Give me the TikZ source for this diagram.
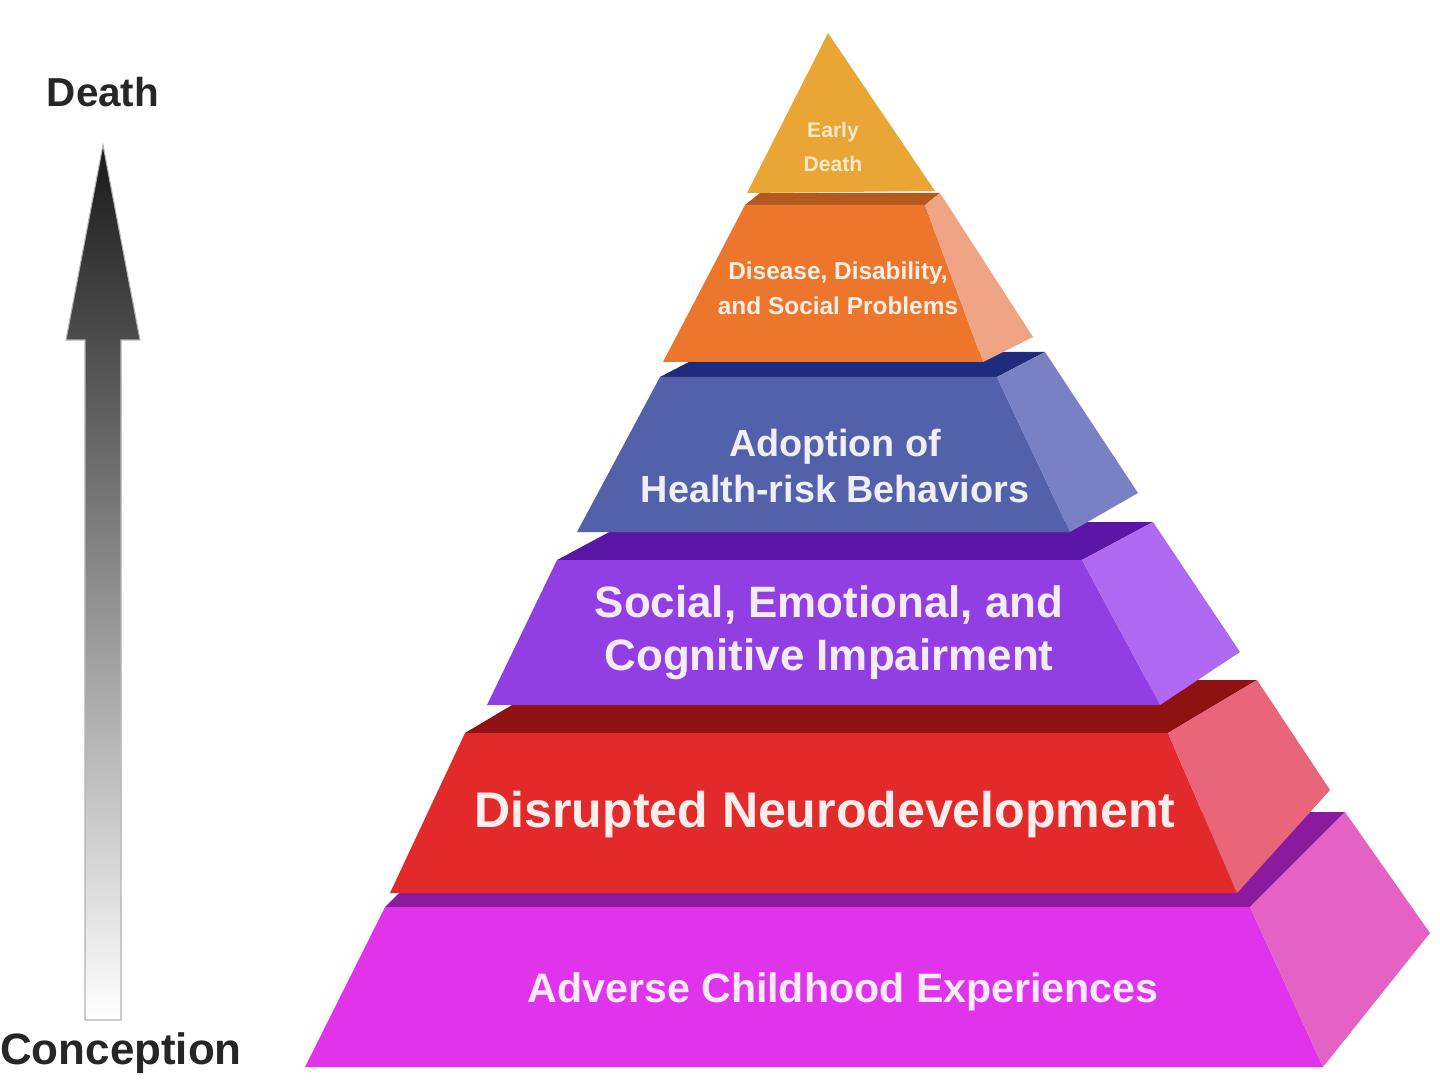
\documentclass[tikz,border=0pt]{standalone}
\usepackage{fontspec}
\setmainfont{Liberation Sans}
\usepackage{xcolor}
\usepackage{tikz}
\usetikzlibrary{calc}
\definecolor{goldc}{HTML}{EAA634}
\definecolor{orgc}{HTML}{EC772C}
\definecolor{orgs}{HTML}{F0A486}
\definecolor{orgt}{HTML}{B55A1E}
\definecolor{bluc}{HTML}{5360AA}
\definecolor{blus}{HTML}{7A80C4}
\definecolor{blut}{HTML}{1F2C7E}
\definecolor{purc}{HTML}{913EE2}
\definecolor{purs}{HTML}{B068F2}
\definecolor{purt}{HTML}{5B16A8}
\definecolor{redc}{HTML}{E22A2A}
\definecolor{reds}{HTML}{E8657A}
\definecolor{redt}{HTML}{8E1212}
\definecolor{magc}{HTML}{E034EC}
\definecolor{mags}{HTML}{E462C4}
\definecolor{magt}{HTML}{8B1A9E}
\tikzset{
  lbl/.style={align=center,inner sep=0pt},
  axl/.style={inner sep=0pt,text=black!85}
}
\begin{document}
\begin{tikzpicture}[x=0.02cm,y=-0.02cm]
\useasboundingbox (0,0) rectangle (1440,1084);
\shade[top color=black!90,bottom color=white,draw=gray!60,line width=0.6pt] (85,1020)--(85,340)--(66,340)--(103,145)--(140,340)--(121,340)--(121,1020)--cycle;
\node[axl,font=\bfseries\fontsize{23}{27}\selectfont] (death) at (103,92) {Death};
\node[axl,font=\bfseries\fontsize{25}{30}\selectfont] (concep) at (121,1053) {Conception};
\fill[magt] (385,907)--(1250,907)--(1345,812)--(480,812)--cycle;
\fill[magc] (385,907)--(1250,907)--(1323,1067)--(305,1067)--cycle;
\fill[mags] (1250,907)--(1345,812)--(1430,933)--(1323,1067)--cycle;
\fill[redt] (465,733)--(1168,733)--(1257,680)--(554,680)--cycle;
\fill[redc] (465,733)--(1168,733)--(1237,893)--(390,893)--cycle;
\fill[reds] (1168,733)--(1257,680)--(1330,790)--(1237,893)--cycle;
\fill[purt] (557,560)--(1082,560)--(1153,522)--(628,522)--cycle;
\fill[purc] (557,560)--(1082,560)--(1160,705)--(487,705)--cycle;
\fill[purs] (1082,560)--(1153,522)--(1240,652)--(1160,705)--cycle;
\fill[blut] (660,377)--(997,377)--(1045,352)--(708,352)--cycle;
\fill[bluc] (660,377)--(997,377)--(1070,532)--(577,532)--cycle;
\fill[blus] (997,377)--(1045,352)--(1138,493)--(1070,532)--cycle;
\fill[orgt] (745,205)--(925,205)--(940,193)--(760,193)--cycle;
\fill[orgc] (745,205)--(925,205)--(983,362)--(663,362)--cycle;
\fill[orgs] (925,205)--(940,193)--(1033,337)--(983,362)--cycle;
\fill[goldc] (828,33)--(935,191)--(747,193)--cycle;
\node[lbl,text=goldc!25!white,font=\bfseries\fontsize{12}{19}\selectfont] (early) at (833,147) {Early\\Death};
\node[lbl,text=orgc!12!white,font=\bfseries\fontsize{13.9}{20}\selectfont] (disease) at (838,288) {Disease, Disability,\\and Social Problems};
\node[lbl,text=bluc!10!white,font=\bfseries\fontsize{21.5}{26}\selectfont] (adopt) at (835,466) {Adoption of\\Health-risk Behaviors};
\node[lbl,text=purc!10!white,font=\bfseries\fontsize{25}{30}\selectfont] (social) at (829,633) {Social, Emotional, and\\Cognitive Impairment};
\node[lbl,text=redc!8!white,font=\bfseries\fontsize{28.5}{34}\selectfont] (neuro) at (825,815) {Disrupted Neurodevelopment};
\node[lbl,text=magc!10!white,font=\bfseries\fontsize{23.4}{28}\selectfont] (ace) at (843,992) {Adverse Childhood Experiences};
\end{tikzpicture}
\end{document}
